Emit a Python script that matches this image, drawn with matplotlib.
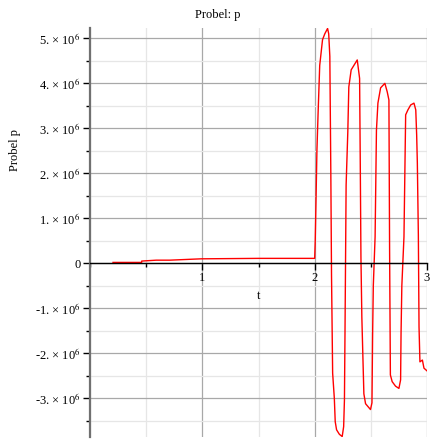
import numpy as np
import matplotlib.pyplot as plt
from matplotlib.ticker import MultipleLocator, FixedLocator, FixedFormatter

plt.rcParams['font.family'] = ['Liberation Serif', 'DejaVu Serif']
plt.rcParams['mathtext.fontset'] = 'stix'

# --- data (t, p in units of 1e6) ---
t_vals = [0.205, 0.46, 0.46, 0.59, 0.71, 0.99, 1.5, 2.0,
          2.005, 2.012, 2.02, 2.03, 2.045, 2.07, 2.09, 2.115, 2.125, 2.135,
          2.144, 2.15, 2.16, 2.175, 2.183, 2.195, 2.22, 2.245, 2.258, 2.265, 2.27,
          2.28, 2.295, 2.304, 2.325, 2.379, 2.4, 2.406, 2.412, 2.42,
          2.438, 2.453, 2.497, 2.51, 2.516, 2.522, 2.538, 2.55, 2.563,
          2.587, 2.625, 2.646, 2.661, 2.667, 2.674, 2.69, 2.72, 2.75,
          2.765, 2.769, 2.776, 2.795, 2.81, 2.83, 2.855, 2.884, 2.9,
          2.908, 2.914, 2.923, 2.929, 2.937, 2.959, 2.973, 3.0]
p_vals = [0.02, 0.02, 0.05, 0.07, 0.07, 0.10, 0.11, 0.11,
          0.5, 1.4, 2.5, 3.3, 4.4, 4.97, 5.1, 5.22, 5.1, 4.6,
          1.96, -0.26, -2.44, -3.0, -3.52, -3.7, -3.8, -3.85, -3.63, -3.04, -1.55,
          1.74, 2.92, 3.92, 4.3, 4.52, 4.11, 2.2, 0.12, -1.2,
          -2.9, -3.12, -3.25, -3.1, -1.55, -0.5, 0.59, 2.96, 3.56,
          3.9, 4.0, 3.81, 3.63, 0.3, -2.48, -2.63, -2.73, -2.78,
          -2.59, -1.55, -0.5, 0.59, 3.3, 3.41, 3.52, 3.56, 3.41,
          2.85, 2.23, 0.63, -1.41, -2.19, -2.15, -2.33, -2.39]

y_ticks = [-3, -2, -1, 0, 1, 2, 3, 4, 5]
y_tick_labels = ['-3. × 10$^{6}$', '-2. × 10$^{6}$', '-1. × 10$^{6}$', '0',
                 '1. × 10$^{6}$', '2. × 10$^{6}$', '3. × 10$^{6}$',
                 '4. × 10$^{6}$', '5. × 10$^{6}$']
x_ticks = [1, 2, 3]

fig = plt.figure(figsize=(4.37, 4.47), dpi=100)
ax = fig.add_axes([90 / 437, 1 - 437 / 447, 337 / 437, 409 / 447])

t = np.array(t_vals)
p = np.array(p_vals) * 1e6
ax.plot(t, p, color='#ff0000', lw=1.0)

ax.set_xlim(0, 3)
ax.set_ylim(-3.86e6, 5.23e6)

# grid: darker majors, light minors
ax.yaxis.set_major_locator(FixedLocator([v * 1e6 for v in y_ticks]))
ax.yaxis.set_major_formatter(FixedFormatter(y_tick_labels))
ax.yaxis.set_minor_locator(MultipleLocator(0.5e6))
ax.xaxis.set_major_locator(FixedLocator(x_ticks))
ax.xaxis.set_minor_locator(MultipleLocator(0.5))
ax.grid(True, which='major', color='#a8a8a8', lw=0.9)
ax.grid(True, which='minor', color='#e6e6e6', lw=0.9)
ax.set_axisbelow(True)

# Maple style axes: x axis through zero
for s in ['top', 'right']:
    ax.spines[s].set_visible(False)
ax.spines['bottom'].set_position(('data', 0))
ax.spines['bottom'].set_color('black')
ax.spines['bottom'].set_linewidth(1.0)
ax.spines['left'].set_color('#707070')
ax.spines['left'].set_linewidth(1.6)

ax.tick_params(axis='y', which='major', length=5, width=1, labelsize=9, pad=2, colors='black')
ax.tick_params(axis='y', which='minor', length=3, width=1)
ax.tick_params(axis='x', which='major', length=5, width=1, labelsize=9, pad=1, direction='out')
ax.tick_params(axis='x', which='minor', length=3, width=1, direction='out')

ax.text(1.5, -0.72e6, 't', ha='center', va='center', fontsize=9)
fig.text(218 / 437, 1 - 15 / 447, 'Probel: p', ha='center', va='center', fontsize=9)
fig.text(15 / 437, 1 - 150 / 447, 'Probel p', ha='center', va='center',
         rotation=90, fontsize=9)

plt.savefig('out.png', dpi=100)
